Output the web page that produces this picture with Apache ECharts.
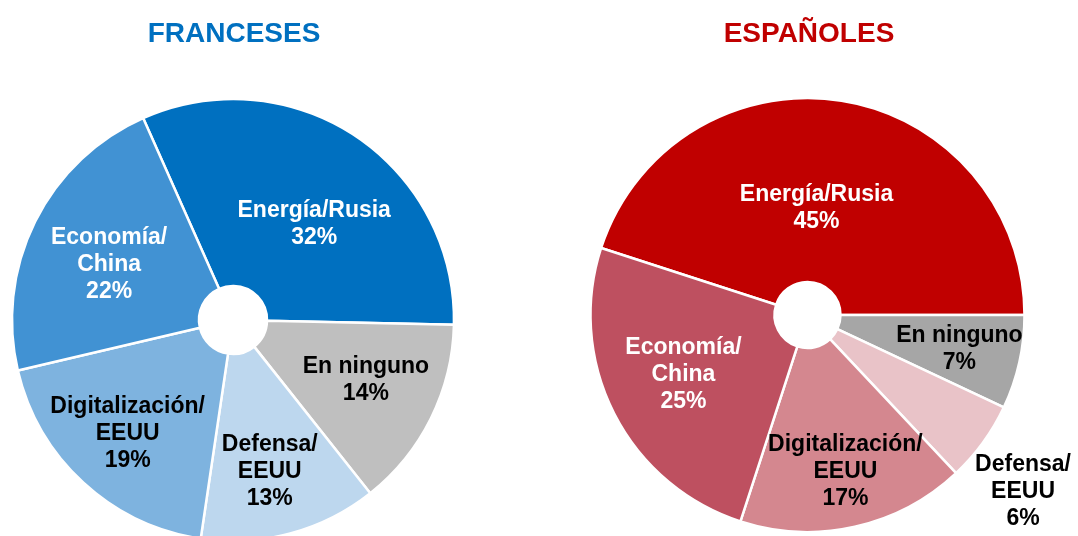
<!DOCTYPE html>
<html>
<head>
<meta charset="utf-8">
<script src="https://cdn.jsdelivr.net/npm/echarts@6/dist/echarts.min.js"></script>
<style>html,body{margin:0;padding:0;background:#fff;}#chart{width:1078px;height:536px;}</style>
</head>
<body>
<div id="chart"></div>
<script>
var titles = ['FRANCESES', 'ESPAÑOLES'];
var frCategories = ['Energía/Rusia', 'En ninguno', 'Defensa/\nEEUU', 'Digitalización/\nEEUU', 'Economía/\nChina'];
var frValues = [32, 14, 13, 19, 22];
var esCategories = ['Energía/Rusia', 'En ninguno', 'Defensa/\nEEUU', 'Digitalización/\nEEUU', 'Economía/\nChina'];
var esValues = [45, 7, 6, 17, 25];

var frColors = ['#0070C0', '#BFBFBF', '#BDD7EE', '#7EB3DF', '#4192D3'];
var frText = ['#ffffff', '#000000', '#000000', '#000000', '#ffffff'];
var frOffsets = [[9, 13], [16, 2], [3, 26], [-17, 18], [-7, 3]];
var esColors = ['#C00000', '#A6A6A6', '#E9C3C8', '#D4878F', '#BE5060'];
var esText = ['#ffffff', '#000000', '#000000', '#000000', '#ffffff'];
var esOffsets = [[-11, 20], [27, 6], [112, 101], [10, 32], [-10, 2]];

function build(cats, vals, colors, textColors, offsets) {
  return cats.map(function (c, i) {
    return {
      name: c, value: vals[i],
      itemStyle: { color: colors[i] },
      label: { color: textColors[i], offset: offsets[i] }
    };
  });
}

var font = 'Arial, "Liberation Sans", sans-serif';
var labelCommon = {
  show: true, position: 'inside',
  fontFamily: font, fontWeight: 'bold', fontSize: 23, lineHeight: 27,
  align: 'center',
  formatter: function (p) { return p.name + '\n' + p.value + '%'; }
};

var chart = echarts.init(document.getElementById('chart'), null, { renderer: 'canvas' });
chart.setOption({
  backgroundColor: '#ffffff',
  animation: false,
  title: [
    { text: titles[0], left: 229, top: 15, textAlign: 'center',
      textStyle: { color: '#0070C0', fontFamily: font, fontWeight: 'bold', fontSize: 28 } },
    { text: titles[1], left: 804, top: 15, textAlign: 'center',
      textStyle: { color: '#C00000', fontFamily: font, fontWeight: 'bold', fontSize: 28 } }
  ],
  series: [
    {
      type: 'pie', center: [233, 320], radius: [34, 221], startAngle: 114,
      clockwise: true, silent: true,
      itemStyle: { borderColor: '#ffffff', borderWidth: 2.5 },
      label: labelCommon, labelLine: { show: false },
      data: build(frCategories, frValues, frColors, frText, frOffsets)
    },
    {
      type: 'pie', center: [807.5, 315], radius: [33, 217], startAngle: 162,
      clockwise: true, silent: true,
      itemStyle: { borderColor: '#ffffff', borderWidth: 2.5 },
      label: labelCommon, labelLine: { show: false },
      data: build(esCategories, esValues, esColors, esText, esOffsets)
    }
  ]
});
</script>
</body>
</html>
